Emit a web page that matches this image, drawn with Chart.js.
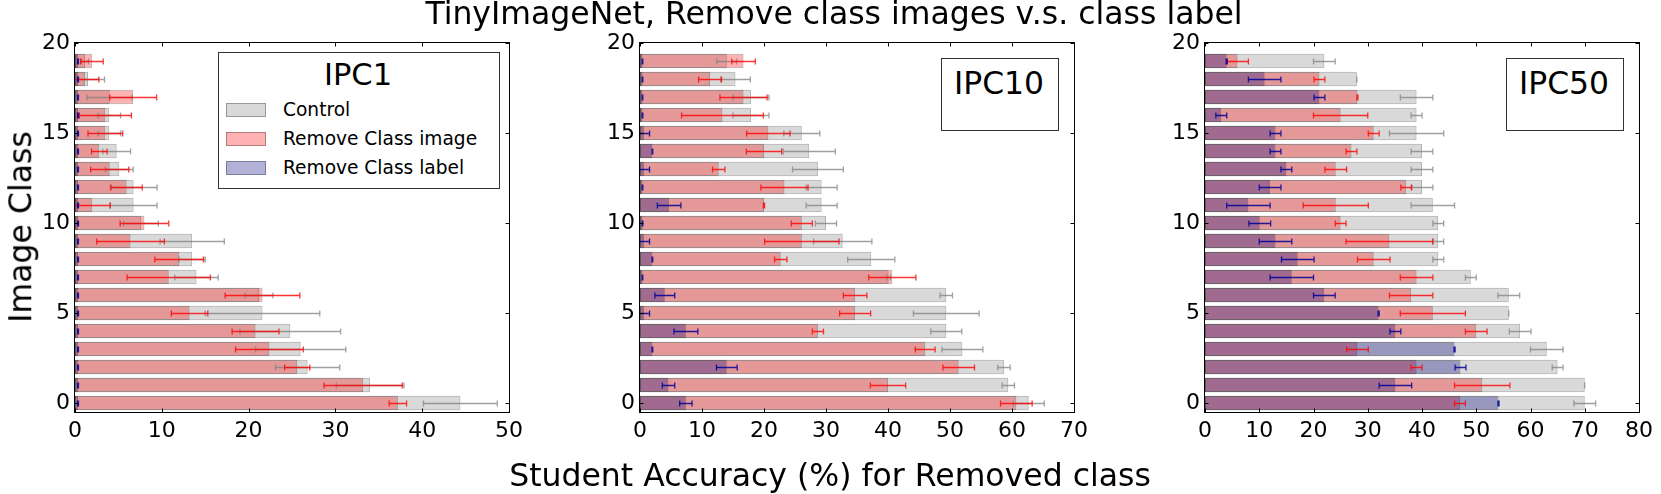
<!DOCTYPE html>
<html><head><meta charset="utf-8">
<script src="https://cdn.jsdelivr.net/npm/chart.js@4.4.1/dist/chart.umd.min.js"></script>
<style>
html,body{margin:0;padding:0;width:1661px;height:494px;overflow:hidden;background:#fff;font-family:'DejaVu Sans',sans-serif;color:#000;}
canvas{position:absolute;top:0;}
.t{position:absolute;white-space:nowrap;line-height:1;transform:translate(-50%,-50%);}
.tl{position:absolute;white-space:nowrap;line-height:1;transform:translate(0,-50%);}
.box{position:absolute;box-sizing:border-box;border:1px solid #333;background:#fff;}
.sw{position:absolute;box-sizing:border-box;width:40px;height:14px;border:1px solid rgba(0,0,0,0.3);transform:translate(0,-50%);}
</style></head><body>
<canvas id="c1" width="531" height="494" style="left:0px"></canvas>
<canvas id="c2" width="531" height="494" style="left:565px"></canvas>
<canvas id="c3" width="531" height="494" style="left:1130px"></canvas>

<div class="t" style="left:834px;top:14px;font-size:31.5px;">TinyImageNet, Remove class images v.s. class label</div>
<div class="t" style="left:830px;top:476px;font-size:31.5px;">Student Accuracy (%) for Removed class</div>
<div class="t" style="left:21px;top:227px;font-size:31.5px;transform:translate(-50%,-50%) rotate(-90deg);">Image Class</div>

<div class="box" style="left:218px;top:52px;width:282px;height:137px;"></div>
<div class="t" style="left:358px;top:74.5px;font-size:30.5px;">IPC1</div>
<div class="sw" style="left:226px;top:110px;background:rgba(128,128,128,0.3)"></div>
<div class="tl" style="left:283px;top:110px;font-size:18.6px;">Control</div>
<div class="sw" style="left:226px;top:139px;background:rgba(255,0,0,0.3)"></div>
<div class="tl" style="left:283px;top:139px;font-size:18.6px;">Remove Class image</div>
<div class="sw" style="left:226px;top:168px;background:rgba(0,0,128,0.3)"></div>
<div class="tl" style="left:283px;top:168px;font-size:18.6px;">Remove Class label</div>

<div class="box" style="left:941px;top:58px;width:118px;height:73px;"></div>
<div class="t" style="left:999px;top:84px;font-size:31.4px;">IPC10</div>
<div class="box" style="left:1506px;top:58px;width:118px;height:73px;"></div>
<div class="t" style="left:1564px;top:84px;font-size:31.4px;">IPC50</div>

<script>
// ---- data ----
const classes = [0,1,2,3,4,5,6,7,8,9,10,11,12,13,14,15,16,17,18,19];
const yTicks = [0,5,10,15,20];
const xTicksIPC1 = [0,10,20,30,40,50];
const xTicksIPC10 = [0,10,20,30,40,50,60,70];
const xTicksIPC50 = [0,10,20,30,40,50,60,70,80];
const seriesNames = ['Control','Remove Class image','Remove Class label'];

const ipc1Control    = [44.4,34.0,26.8,26.0,24.8,21.6,21.2,14.0,13.5,13.5,7.6,6.75,6.75,5.1,4.8,3.95,3.95,4.0,1.5,1.15];
const ipc1ControlErr = [4.25,3.9,3.7,5.2,5.8,6.6,1.6,2.5,1.5,3.7,2.0,2.7,2.7,1.6,1.6,1.3,1.3,2.6,1.9,0.4];
const ipc1Image      = [37.2,33.2,25.6,22.4,20.8,13.2,21.6,10.8,12.0,6.4,8.0,1.95,5.95,4.0,2.8,3.5,3.5,6.7,1.15,1.95];
const ipc1ImageErr   = [1.0,4.5,1.45,3.9,2.7,2.1,4.3,4.8,2.8,3.9,2.8,2.1,1.8,2.2,0.9,2.0,3.0,2.7,1.6,1.3];
const ipc1Label      = [0.35,0.35,0.35,0.35,0.35,0.35,0.35,0.35,0.35,0.35,0.35,0.35,0.35,0.35,0.35,0.35,0.35,0.35,0.35,0.35];
const ipc1LabelErr   = [0.05,0.05,0.05,0.05,0.05,0.05,0.05,0.05,0.05,0.05,0.05,0.05,0.05,0.05,0.05,0.05,0.05,0.05,0.05,0.05];

const ipc10Control    = [62.7,59.4,58.7,52.0,49.4,49.4,49.4,40.1,37.3,32.7,30.0,29.3,29.3,28.7,27.3,26.1,17.9,17.9,15.4,14.0];
const ipc10ControlErr = [2.5,1.0,1.0,3.3,2.5,5.3,1.0,0.3,3.8,4.7,1.7,2.5,2.5,4.1,4.2,2.9,2.9,2.9,2.4,1.6];
const ipc10Image      = [60.7,40.0,51.4,46.0,28.7,34.7,34.7,40.7,22.7,26.1,26.1,20.0,23.3,12.7,20.0,20.7,13.3,16.7,11.3,16.7];
const ipc10ImageErr   = [2.55,2.85,2.55,1.6,0.9,2.5,1.9,3.8,1.0,6.0,1.7,0.1,3.8,1.0,2.85,3.5,6.6,3.8,1.85,1.9];
const ipc10Label      = [7.4,4.6,14.0,2.0,7.4,0.64,4.0,0.4,2.0,0.64,0.4,4.7,0.4,0.64,2.0,0.64,0.4,0.4,0.4,0.4];
const ipc10LabelErr   = [1.0,1.0,1.67,0.05,1.93,0.9,1.6,0.05,0.05,0.9,0.05,1.9,0.05,0.9,0.05,0.9,0.05,0.05,0.05,0.05];

const ipc50Control    = [70.0,70.0,65.0,63.0,58.1,56.0,56.0,49.0,43.0,43.0,43.0,42.0,40.0,40.0,40.0,39.0,39.0,39.0,28.0,22.0];
const ipc50ControlErr = [2.0,0,1.0,3.0,2.0,0,2.0,1.0,1.0,1.0,1.0,4.0,2.0,2.0,2.0,5.0,1.0,3.0,0,2.0];
const ipc50Image      = [47.0,51.1,39.0,28.1,50.0,42.0,38.0,39.0,31.1,34.0,25.0,24.1,37.1,24.1,27.0,31.1,25.0,28.1,21.1,6.0];
const ipc50ImageErr   = [1.0,5.1,1.0,2.0,2.0,6.0,4.0,3.0,3.0,8.0,1.0,6.0,1.0,2.0,1.0,1.0,5.0,0.1,1.0,2.0];
const ipc50Label      = [54.1,35.1,47.1,46.0,35.1,32.0,22.0,16.0,17.1,13.0,10.1,8.0,12.0,15.0,13.0,13.0,3.0,21.1,11.0,4.0];
const ipc50LabelErr   = [0.1,3.0,1.0,0.1,1.0,0.1,2.0,4.0,3.0,3.0,2.0,4.0,2.0,1.0,1.0,1.0,1.0,1.0,3.0,0.1];

// ---- drawing ----
Chart.defaults.font.family = "'DejaVu Sans', sans-serif";
Chart.defaults.font.size = 22;
Chart.defaults.color = '#000';

const framePlugin = {
  id: 'frame',
  afterDraw(chart) {
    const {ctx, chartArea: ca, scales: {x, y}} = chart;
    ctx.save();
    ctx.strokeStyle = '#000';
    ctx.lineWidth = 1;
    const L = Math.round(ca.left) - 0.5, R = Math.round(ca.right) + 0.5;
    const T = Math.round(ca.top) - 0.5, B = Math.round(ca.bottom) + 0.5;
    ctx.strokeRect(L, T, R - L, B - T);
    ctx.beginPath();
    const tl = 4;
    x.ticks.forEach(t => {
      const px = Math.round(x.getPixelForValue(t.value)) + 0.5;
      ctx.moveTo(px, B); ctx.lineTo(px, B - tl);
      ctx.moveTo(px, T); ctx.lineTo(px, T + tl);
    });
    y.ticks.forEach(t => {
      const py = Math.round(y.getPixelForValue(t.value)) + 0.5;
      ctx.moveTo(L, py); ctx.lineTo(L + tl, py);
      ctx.moveTo(R, py); ctx.lineTo(R - tl, py);
    });
    ctx.stroke();
    ctx.restore();
  }
};

const errorPlugin = {
  id: 'errbars',
  afterDatasetsDraw(chart) {
    const {ctx, chartArea: ca, scales: {x}} = chart;
    ctx.save();
    ctx.beginPath();
    ctx.rect(ca.left, ca.top, ca.right - ca.left, ca.bottom - ca.top);
    ctx.clip();
    chart.data.datasets.forEach((ds, di) => {
      const meta = chart.getDatasetMeta(di);
      ctx.strokeStyle = ds.errColor;
      ctx.lineWidth = 1.3;
      meta.data.forEach((el, i) => {
        const v = ds.data[i].x, e = ds.errors[i];
        const x1 = x.getPixelForValue(v - e), x2 = x.getPixelForValue(v + e);
        const yy = Math.round(el.y) + 0.5;
        ctx.beginPath();
        ctx.moveTo(x1, yy); ctx.lineTo(x2, yy);
        ctx.moveTo(x1, yy - 3); ctx.lineTo(x1, yy + 3);
        ctx.moveTo(x2, yy - 3); ctx.lineTo(x2, yy + 3);
        ctx.stroke();
      });
    });
    ctx.restore();
  }
};

function pts(vals) { return vals.map((v, i) => ({x: v, y: classes[i]})); }

function makeChart(id, xTicks, ctrl, ctrlErr, img, imgErr, lab, labErr) {
  const common = {borderColor: 'rgba(0,0,0,0.3)', borderWidth: 1, borderSkipped: false,
                  grouped: false, categoryPercentage: 1, barPercentage: 0.8};
  return new Chart(document.getElementById(id), {
    type: 'bar',
    data: {
      datasets: [
        Object.assign({label: seriesNames[0], data: pts(ctrl), errors: ctrlErr,
          backgroundColor: 'rgba(128,128,128,0.3)', errColor: 'rgba(128,128,128,0.75)', order: 3}, common),
        Object.assign({label: seriesNames[1], data: pts(img), errors: imgErr,
          backgroundColor: 'rgba(255,0,0,0.3)', errColor: 'rgba(255,0,0,0.8)', order: 2}, common),
        Object.assign({label: seriesNames[2], data: pts(lab), errors: labErr,
          backgroundColor: 'rgba(0,0,128,0.3)', errColor: 'rgba(0,0,150,0.85)', order: 1}, common)
      ]
    },
    options: {
      indexAxis: 'y',
      responsive: false,
      animation: false,
      events: [],
      layout: {padding: {top: 43, left: 0, right: 22, bottom: 0}},
      plugins: {legend: {display: false}, tooltip: {enabled: false}},
      scales: {
        x: {
          type: 'linear', min: xTicks[0], max: xTicks[xTicks.length - 1],
          afterBuildTicks: s => { s.ticks = xTicks.map(v => ({value: v})); },
          afterFit: s => { s.height = 82; },
          grid: {display: false, drawTicks: false},
          border: {display: false},
          ticks: {padding: 6, maxRotation: 0, autoSkip: false, color: '#000'}
        },
        y: {
          type: 'linear', min: -0.5, max: 20, offset: false,
          afterBuildTicks: s => { s.ticks = yTicks.map(v => ({value: v})); },
          afterFit: s => { s.width = 75; },
          grid: {display: false, drawTicks: false},
          border: {display: false},
          ticks: {padding: 5, autoSkip: false, color: '#000'}
        }
      }
    },
    plugins: [errorPlugin, framePlugin]
  });
}

makeChart('c1', xTicksIPC1, ipc1Control, ipc1ControlErr, ipc1Image, ipc1ImageErr, ipc1Label, ipc1LabelErr);
makeChart('c2', xTicksIPC10, ipc10Control, ipc10ControlErr, ipc10Image, ipc10ImageErr, ipc10Label, ipc10LabelErr);
makeChart('c3', xTicksIPC50, ipc50Control, ipc50ControlErr, ipc50Image, ipc50ImageErr, ipc50Label, ipc50LabelErr);
</script>
</body></html>
